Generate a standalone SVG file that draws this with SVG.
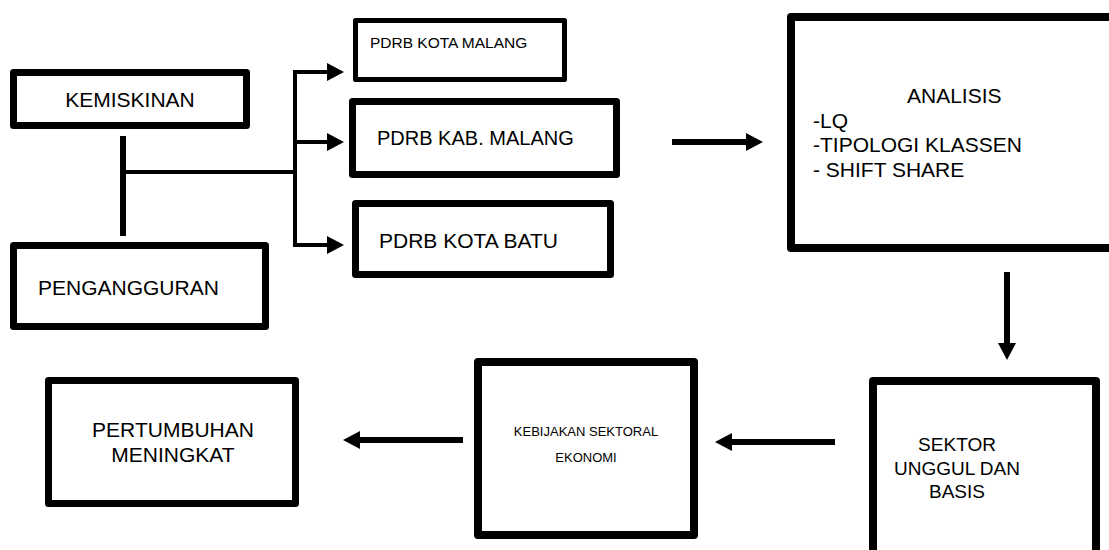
<svg xmlns="http://www.w3.org/2000/svg" width="1109" height="550" viewBox="0 0 1109 550">
<style>
.box{fill:#fff;stroke:#000;stroke-linejoin:round}
.t{font-family:"Liberation Sans",Arial,sans-serif;fill:#000}
.c{stroke:#000;fill:none}
</style>
<defs>
<marker id="ah" markerUnits="userSpaceOnUse" markerWidth="17" markerHeight="18" refX="0" refY="9" orient="auto" viewBox="0 0 17 18">
<path d="M0,0 L17,9 L0,18 Z" fill="#000"/>
</marker>
</defs>
<rect width="1109" height="550" fill="#fff"/>
<g id="connectors">
<line class="c" x1="123" y1="136" x2="123" y2="236" stroke-width="6"/>
<line class="c" x1="123" y1="172" x2="295" y2="172" stroke-width="4"/>
<line class="c" x1="295" y1="70" x2="295" y2="247" stroke-width="4"/>
<line class="c" x1="293" y1="72" x2="327" y2="72" stroke-width="4" marker-end="url(#ah)"/>
<line class="c" x1="295" y1="142" x2="327" y2="142" stroke-width="4" marker-end="url(#ah)"/>
<line class="c" x1="293" y1="245" x2="327" y2="245" stroke-width="4" marker-end="url(#ah)"/>
<line class="c" x1="672" y1="142" x2="746" y2="142" stroke-width="6" marker-end="url(#ah)"/>
<line class="c" x1="1007" y1="272" x2="1007" y2="343" stroke-width="6" marker-end="url(#ah)"/>
<line class="c" x1="835" y1="442" x2="732" y2="442" stroke-width="6" marker-end="url(#ah)"/>
<line class="c" x1="463" y1="440" x2="360" y2="440" stroke-width="6" marker-end="url(#ah)"/>
</g>
<g id="kemiskinan">
<rect class="box" x="13.5" y="72.5" width="233" height="53" stroke-width="7"/>
<text class="t" x="130" y="107" font-size="21" text-anchor="middle">KEMISKINAN</text>
</g>
<g id="pengangguran">
<rect class="box" x="13.5" y="245.5" width="252" height="81" stroke-width="7"/>
<text class="t" x="38" y="295" font-size="21">PENGANGGURAN</text>
</g>
<g id="pdrb-kota-malang">
<rect class="box" x="355.5" y="20.5" width="209" height="59" stroke-width="5"/>
<text class="t" x="370" y="48" font-size="15.5">PDRB KOTA MALANG</text>
</g>
<g id="pdrb-kab-malang">
<rect class="box" x="352.5" y="101.5" width="264" height="73" stroke-width="7"/>
<text class="t" x="377" y="145" font-size="20">PDRB KAB. MALANG</text>
</g>
<g id="pdrb-kota-batu">
<rect class="box" x="355.5" y="203.5" width="255" height="71" stroke-width="7"/>
<text class="t" x="379" y="248" font-size="21">PDRB KOTA BATU</text>
</g>
<g id="analisis">
<rect class="box" x="791" y="17" width="330" height="231" stroke-width="8"/>
<text class="t" x="907" y="103" font-size="21">ANALISIS</text>
<text class="t" x="813" y="128" font-size="21">-LQ</text>
<text class="t" x="813" y="152" font-size="21">-TIPOLOGI KLASSEN</text>
<text class="t" x="813" y="177" font-size="21">- SHIFT SHARE</text>
</g>
<g id="sektor">
<rect class="box" x="873" y="381" width="223" height="200" stroke-width="8"/>
<text class="t" x="957" y="451" font-size="19" text-anchor="middle">SEKTOR</text>
<text class="t" x="957" y="475" font-size="19" text-anchor="middle">UNGGUL DAN</text>
<text class="t" x="957" y="498" font-size="19" text-anchor="middle">BASIS</text>
</g>
<g id="kebijakan">
<rect class="box" x="478" y="362" width="216" height="173" stroke-width="8"/>
<text class="t" x="586" y="436" font-size="13" text-anchor="middle">KEBIJAKAN SEKTORAL</text>
<text class="t" x="586" y="462" font-size="13" text-anchor="middle">EKONOMI</text>
</g>
<g id="pertumbuhan">
<rect class="box" x="48.5" y="380.5" width="247" height="123" stroke-width="7"/>
<text class="t" x="173" y="437" font-size="21" text-anchor="middle">PERTUMBUHAN</text>
<text class="t" x="173" y="462" font-size="21" text-anchor="middle">MENINGKAT</text>
</g>
</svg>
